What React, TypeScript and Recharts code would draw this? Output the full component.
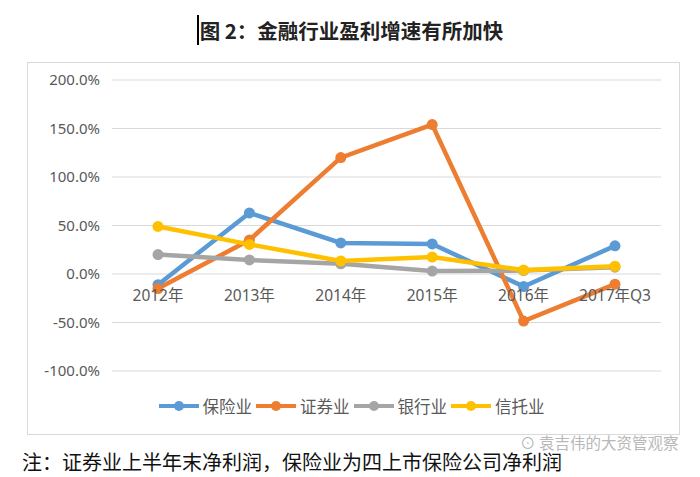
import React from 'react';
import { LineChart, Line, XAxis, YAxis, CartesianGrid } from 'recharts';

// 数据：各行业净利润增速（%）
const categories = ['2012年', '2013年', '2014年', '2015年', '2016年', '2017年Q3'];
const insurance = [-11, 63, 32, 31, -13, 29];
const securities = [-15, 35, 120, 154, -48.5, -10.5];
const banking = [20, 14.5, 10.5, 3, 3.5, 7];
const trust = [49, 30.5, 13.5, 17.5, 4, 8];
const yTicks = [-100, -50, 0, 50, 100, 150, 200];

const series = [
  { key: 'insurance', name: '保险业', color: '#5B9BD5' },
  { key: 'securities', name: '证券业', color: '#ED7D31' },
  { key: 'banking', name: '银行业', color: '#A5A5A5' },
  { key: 'trust', name: '信托业', color: '#FFC000' },
];

const data = categories.map((c, i) => ({
  name: c,
  insurance: insurance[i],
  securities: securities[i],
  banking: banking[i],
  trust: trust[i],
}));

const FONT = '"Noto Sans CJK SC", "Noto Sans", sans-serif';
const TICK_FONT = '"Noto Sans", "Noto Sans CJK SC", sans-serif';

const Legend = () => (
  <div
    style={{
      position: 'absolute',
      left: 0,
      right: 0,
      top: 331,
      display: 'flex',
      justifyContent: 'center',
      fontFamily: FONT,
      fontSize: 16.5,
      color: '#595959',
    }}
  >
    {series.map((s) => (
      <div key={s.key} style={{ display: 'flex', alignItems: 'center', marginRight: 4 }}>
        <svg width={40} height={12}>
          <line x1={0} y1={6} x2={40} y2={6} stroke={s.color} strokeWidth={4} />
          <circle cx={20} cy={6} r={5} fill={s.color} />
        </svg>
        <span style={{ marginLeft: 4 }}>{s.name}</span>
      </div>
    ))}
  </div>
);

export default function App() {
  return (
    <div style={{ position: 'absolute', left: 0, top: 0, width: 700, height: 477, background: '#fff', fontFamily: FONT, overflow: 'hidden' }}>
      <div
        style={{
          position: 'absolute',
          top: 18,
          left: 0,
          width: 700,
          textAlign: 'center',
          fontSize: 20.5,
          fontWeight: 'bold',
          color: '#222',
          lineHeight: 1.2,
        }}
      >
        <span style={{ borderLeft: '2px solid #000', paddingLeft: 1 }}>图 2：金融行业盈利增速有所加快</span>
      </div>

      <div
        style={{
          position: 'absolute',
          left: 27,
          top: 62,
          width: 653,
          height: 373,
          border: '1px solid #d9d9d9',
          boxSizing: 'border-box',
        }}
      >
        <LineChart
          width={653}
          height={373}
          data={data}
          margin={{ top: 17, right: 20, bottom: 35, left: 0 }}
        >
          <CartesianGrid vertical={false} stroke="#d9d9d9" strokeWidth={1} />
          {/* x轴标签画在 0% 线下方（Excel 样式） */}
          <XAxis
            dataKey="name"
            axisLine={false}
            tickLine={false}
            height={30}
            padding={{ left: 46, right: 46 }}
            interval={0}
            tick={{ fill: '#595959', fontSize: 15.5, fontFamily: TICK_FONT, dy: -89 }}
          />
          <YAxis
            width={84}
            domain={[-100, 200]}
            ticks={yTicks}
            axisLine={false}
            tickLine={false}
            tickFormatter={(v: number) => `${v.toFixed(1)}%`}
            tick={{ fill: '#595959', fontSize: 15, fontFamily: TICK_FONT }}
            tickMargin={6}
          />
          {series.map((s) => (
            <Line
              key={s.key}
              dataKey={s.key}
              name={s.name}
              stroke={s.color}
              strokeWidth={4.5}
              dot={{ r: 5.5, fill: s.color, stroke: s.color, strokeWidth: 0 }}
              isAnimationActive={false}
            />
          ))}
        </LineChart>
        <Legend />
      </div>

      <div
        style={{
          position: 'absolute',
          left: 520,
          top: 433,
          fontSize: 15.5,
          color: '#b8b8b8',
          lineHeight: 1.2,
        }}
      >
        ⊙ 袁吉伟的大资管观察
      </div>
      <div
        style={{
          position: 'absolute',
          left: 22,
          top: 450,
          fontSize: 20,
          color: '#111',
          lineHeight: 1.2,
          whiteSpace: 'nowrap',
        }}
      >
        注：证券业上半年末净利润，保险业为四上市保险公司净利润
      </div>
    </div>
  );
}
